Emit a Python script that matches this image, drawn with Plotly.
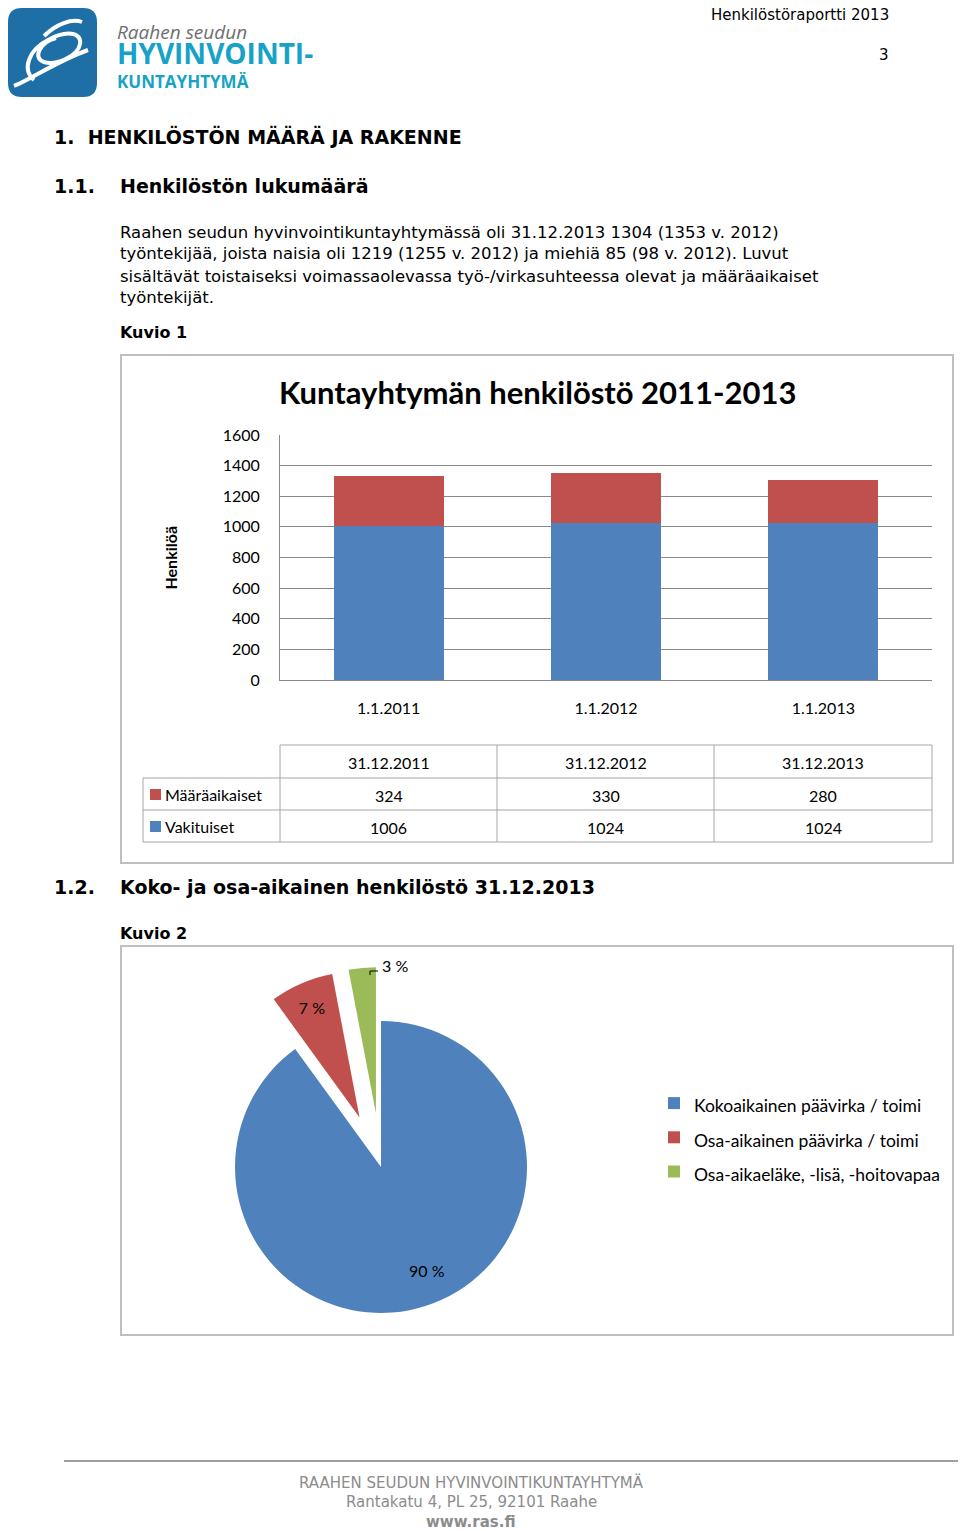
import plotly.graph_objects as go

# page size in pixels
W = 960
H = 1531

BLUE = "#4F81BD"
RED = "#C0504D"
GREEN = "#9BBB59"
GRID = "#898989"
FRAME = "#BFBFBF"

# --- data, figure 1 ---
periods = ["31.12.2011", "31.12.2012", "31.12.2013"]
axis_labels = ["1.1.2011", "1.1.2012", "1.1.2013"]
fixed_term = [324, 330, 280]      # Määräaikaiset
permanent = [1006, 1024, 1024]    # Vakituiset

# --- data, figure 2 ---
pie_labels = ["Kokoaikainen päävirka / toimi",
              "Osa-aikainen päävirka / toimi",
              "Osa-aikaeläke, -lisä, -hoitovapaa"]
pie_values = [90, 7, 3]

BODY = "DejaVu Sans"
CHART = "Lato"


def fx(px):
    # pixel -> paper x
    return px / W


def fy(py):
    # pixel -> paper y (paper y goes up)
    return 1 - py / H


def text(x, y, s, size=15, bold=False, color="black", anchor="left",
         family=BODY, italic=False):
    if bold:
        s = "<b>" + s + "</b>"
    if italic:
        s = "<i>" + s + "</i>"
    if anchor == "left":
        x -= 2   # annotation box padding
    elif anchor == "right":
        x += 2
    return dict(x=fx(x), y=fy(y), xref="paper", yref="paper", text=s,
                showarrow=False, xanchor=anchor, yanchor="middle",
                font=dict(family=family, size=size, color=color))


def line(x0, y0, x1, y1, color=FRAME, width=1):
    return dict(type="line", xref="paper", yref="paper",
                x0=fx(x0), y0=fy(y0), x1=fx(x1), y1=fy(y1),
                line=dict(color=color, width=width))


def rect(x0, y0, x1, y1, fill=None, color=FRAME, width=1):
    return dict(type="rect", xref="paper", yref="paper",
                x0=fx(x0), y0=fy(y0), x1=fx(x1), y1=fy(y1),
                fillcolor=fill if fill else "rgba(0,0,0,0)",
                line=dict(color=color, width=width))


def path(points, color, width=0, fill=None):
    # points: list of (cmd, x, y, ...) in pixels
    parts = []
    for p in points:
        cmd = p[0]
        coords = p[1:]
        xy = []
        for i in range(0, len(coords), 2):
            xy.append(f"{fx(coords[i]):.5f},{fy(coords[i + 1]):.5f}")
        parts.append(cmd + " " + " ".join(xy))
    return dict(type="path", xref="paper", yref="paper",
                path=" ".join(parts) + (" Z" if fill else ""),
                fillcolor=fill if fill else "rgba(0,0,0,0)",
                line=dict(color=color, width=width))


fig = go.Figure()

# stacked bars
fig.add_trace(go.Bar(x=periods, y=permanent, name="Vakituiset",
                     marker=dict(color=BLUE, line=dict(width=0)),
                     width=0.505, showlegend=False, hoverinfo="y"))
fig.add_trace(go.Bar(x=periods, y=fixed_term, name="Määräaikaiset",
                     marker=dict(color=RED, line=dict(width=0)),
                     width=0.505, showlegend=False, hoverinfo="y"))

# pie, red and green slices pulled out
# legend font is bigger than the shown text to get the wider row spacing
legend_text = ["<span style='font-size:17.5px'>" + s + "</span>" for s in pie_labels]
pct_text = [f"{v} %" for v in pie_values]
fig.add_trace(go.Pie(labels=legend_text, values=pie_values, sort=False,
                     direction="clockwise", rotation=0,
                     pull=[0, 0.37, 0.37],
                     marker=dict(colors=[BLUE, RED, GREEN], line=dict(width=0)),
                     text=pct_text, texttemplate=["", "%{text}", ""],
                     textposition="inside",
                     insidetextorientation="horizontal",
                     textfont=dict(family=CHART, size=16, color="black"),
                     domain=dict(x=[fx(181), fx(581)], y=[fy(1367), fy(967)]),
                     hoverinfo="percent",
                     showlegend=True))

shapes = []
ann = []

# logo
shapes.append(path([("M", 22, 8), ("L", 83, 8), ("Q", 97, 8, 97, 22),
                    ("L", 97, 83), ("Q", 97, 97, 83, 97), ("L", 22, 97),
                    ("Q", 8, 97, 8, 83), ("L", 8, 22), ("Q", 8, 8, 22, 8)],
                   color="#1F6FA7", fill="#1F6FA7"))
shapes.append(path([("M", 14, 86), ("C", 30, 80, 55, 62, 88, 50)], "white", 4))
shapes.append(path([("M", 34, 80), ("C", 22, 70, 28, 50, 48, 40),
                    ("C", 66, 30, 82, 32, 80, 44),
                    ("C", 78, 56, 56, 66, 44, 62),
                    ("C", 32, 58, 40, 42, 56, 38)], "white", 4))
shapes.append(path([("M", 44, 36), ("C", 56, 24, 72, 18, 82, 22)], "white", 4))
# logo words as one three-line text (line pitch comes from the 19px base size)
logo = ("<i><span style='color:#6D6E71'>Raahen seudun</span></i><br>"
        "<b><span style='font-size:28px'>HYVINVOINTI-</span></b><br>"
        "<b><span style='font-size:17px'>KUNTAYHTYMÄ</span></b>")
ann.append(dict(x=fx(115), y=fy(56), xref="paper", yref="paper", text=logo,
                showarrow=False, xanchor="left", yanchor="middle", align="left",
                font=dict(family="Open Sans", size=19, color="#17A2C7")))

# page header
ann.append(text(889, 15, "Henkilöstöraportti 2013", 15, anchor="right"))
ann.append(text(889, 55, "3", 15, anchor="right"))

# headings and body
ann.append(text(54, 137, "1.  HENKILÖSTÖN MÄÄRÄ JA RAKENNE", 19, bold=True))
ann.append(text(54, 186, "1.1.", 19, bold=True))
ann.append(text(120, 186, "Henkilöstön lukumäärä", 19, bold=True))
body = ["Raahen seudun hyvinvointikuntayhtymässä oli 31.12.2013 1304 (1353 v. 2012)",
        "työntekijää, joista naisia oli 1219 (1255 v. 2012) ja miehiä 85 (98 v. 2012). Luvut",
        "sisältävät toistaiseksi voimassaolevassa työ-/virkasuhteessa olevat ja määräaikaiset",
        "työntekijät."]
for i, s in enumerate(body):
    ann.append(text(120, 232 + 22 * i, s, 16.5))
ann.append(text(120, 332, "Kuvio 1", 16, bold=True))
ann.append(text(54, 887, "1.2.", 19, bold=True))
ann.append(text(120, 887, "Koko- ja osa-aikainen henkilöstö 31.12.2013", 19, bold=True))
ann.append(text(120, 933, "Kuvio 2", 16, bold=True))

# chart frames
shapes.append(rect(121, 355, 953, 863, width=2))
shapes.append(rect(121, 946, 953, 1335, width=2))

# chart 1 titles
ann.append(text(538, 392, "Kuntayhtymän henkilöstö 2011-2013", 31, bold=True,
                anchor="center", family=CHART))
ann.append(dict(x=fx(158), y=fy(558), xref="paper", yref="paper",
                text="<b>Henkilöä</b>", showarrow=False, textangle=-90,
                font=dict(family=CHART, size=16, color="black")))

# data table under chart 1
cols = [280, 497, 714, 932]
rows = [745, 778, 810, 842]
tcol = "#A6A6A6"
shapes.append(line(280, rows[0], 932, rows[0], tcol))
for r in rows[1:]:
    shapes.append(line(143, r, 932, r, tcol))
shapes.append(line(143, rows[1], 143, rows[3], tcol))
for c in cols:
    shapes.append(line(c, rows[0], c, rows[3], tcol))
series_rows = [("Määräaikaiset", RED, fixed_term), ("Vakituiset", BLUE, permanent)]
for j, p in enumerate(periods):
    cx = (cols[j] + cols[j + 1]) / 2
    ann.append(text(cx, (rows[0] + rows[1]) / 2 + 1, p, 16, anchor="center",
                    family=CHART))
    for k, (name, col, vals) in enumerate(series_rows):
        ann.append(text(cx, (rows[k + 1] + rows[k + 2]) / 2 + 1, str(vals[j]), 16,
                        anchor="center", family=CHART))
for k, (name, col, vals) in enumerate(series_rows):
    yc = (rows[k + 1] + rows[k + 2]) / 2
    shapes.append(rect(150, yc - 5, 161, yc + 6, fill=col, color=col, width=0))
    ann.append(text(165, yc, name, 16, family=CHART))

# pie labels for the big slice and the small outside one
ann.append(text(427, 1270, pct_text[0], 16, anchor="center", family=CHART))
ann.append(text(382, 965, pct_text[2], 16, family=CHART))
shapes.append(path([("M", 370, 975), ("L", 370, 971), ("L", 378, 971)], "black", 1))

# footer
shapes.append(line(64, 1461, 958, 1461, "#7F7F7F", 1.5))
ann.append(text(471, 1482, "RAAHEN SEUDUN HYVINVOINTIKUNTAYHTYMÄ", 15,
                color="#8C8C8C", anchor="center"))
ann.append(text(471, 1502, "Rantakatu 4, PL 25, 92101 Raahe", 15,
                color="#8C8C8C", anchor="center"))
ann.append(text(471, 1522, "www.ras.fi", 15, bold=True,
                color="#8C8C8C", anchor="center"))

fig.update_layout(
    width=W, height=H,
    margin=dict(l=0, r=0, t=0, b=0, pad=0, autoexpand=False),
    paper_bgcolor="white", plot_bgcolor="white",
    barmode="stack", bargap=0,
    font=dict(family=CHART, size=16, color="black"),
    xaxis=dict(domain=[fx(280), fx(932)], tickvals=periods, ticktext=axis_labels,
               showgrid=False, showline=True, linecolor=GRID, ticks="",
               ticklabelstandoff=14, tickfont=dict(family=CHART, size=16),
               fixedrange=True),
    yaxis=dict(domain=[fy(680), fy(435)], range=[0, 1600], dtick=200,
               showgrid=True, gridcolor=GRID, gridwidth=1, showline=True,
               linecolor=GRID, zeroline=False, ticks="",
               ticklabelstandoff=16, tickfont=dict(family=CHART, size=16),
               fixedrange=True),
    legend=dict(x=fx(654), y=fy(1081), xanchor="left", yanchor="top",
                traceorder="normal",
                font=dict(family=CHART, size=24), bgcolor="rgba(0,0,0,0)",
                itemclick=False),
    shapes=shapes,
    annotations=ann,
)

# page has no body margin so pixel positions match the page
fig.write_html("out.html", config={"responsive": False, "displayModeBar": False},
               post_script="document.body.style.margin='0';")
